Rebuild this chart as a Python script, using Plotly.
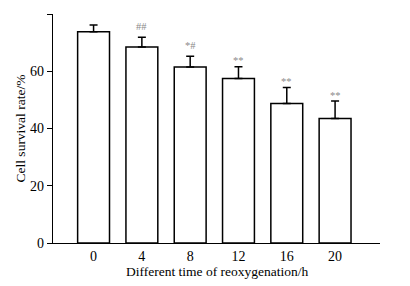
import plotly.graph_objects as go

categories = ["0", "4", "8", "12", "16", "20"]
values = [73.8, 68.5, 61.5, 57.5, 48.7, 43.5]
errors = [2.4, 3.4, 3.7, 4.1, 5.6, 6.1]
marks = ["", "##", "*#", "**", "**", "**"]
y_ticks = [0, 20, 40, 60, 80]

FONT = "Liberation Serif"

fig = go.Figure()
fig.add_trace(go.Bar(
    x=list(range(len(categories))),
    y=values,
    width=0.66,
    marker=dict(color="white", line=dict(color="black", width=1.5)),
    error_y=dict(type="data", array=errors, arrayminus=[0]*len(errors),
                 symmetric=False, color="black", thickness=1.5, width=4),
    showlegend=False,
))

for i, (v, e, m) in enumerate(zip(values, errors, marks)):
    if m:
        fig.add_annotation(x=i, y=v + e, text=m, showarrow=False,
                           yanchor="middle", yshift=11 if "#" in m else 6,
                           font=dict(family=FONT, size=10.5, color="#8a8a8a"))

# axis titles
fig.add_annotation(xref="paper", yref="paper", x=0.503, y=0, yshift=-28,
                   xanchor="center", yanchor="middle", showarrow=False,
                   text="Different time of reoxygenation/h",
                   font=dict(family=FONT, size=13.5, color="black"))
fig.add_annotation(xref="paper", yref="paper", x=0, y=0.5, xshift=-33,
                   xanchor="center", yanchor="middle", showarrow=False, textangle=-90,
                   text="Cell survival rate/%",
                   font=dict(family=FONT, size=13.5, color="black"))

# page body adds an 8px offset, so the figure is 8px smaller and margins shifted
fig.update_layout(
    width=402, height=278,
    margin=dict(l=45, r=30, t=6, b=43),
    paper_bgcolor="white", plot_bgcolor="white",
    font=dict(family=FONT, size=14, color="black"),
    xaxis=dict(
        range=[-0.84, 5.93], automargin=False,
        tickmode="array", tickvals=list(range(len(categories))), ticktext=categories,
        showline=True, linecolor="black", linewidth=1.2,
        ticks="", showgrid=False, zeroline=False,
    ),
    yaxis=dict(
        range=[0, 80], automargin=False,
        tickmode="array", tickvals=y_ticks,
        showline=True, linecolor="black", linewidth=1.2,
        ticks="outside", ticklen=5, tickcolor="black", tickwidth=1.2,
        showgrid=False, zeroline=False,
    ),
)

fig.write_html("out.html")
